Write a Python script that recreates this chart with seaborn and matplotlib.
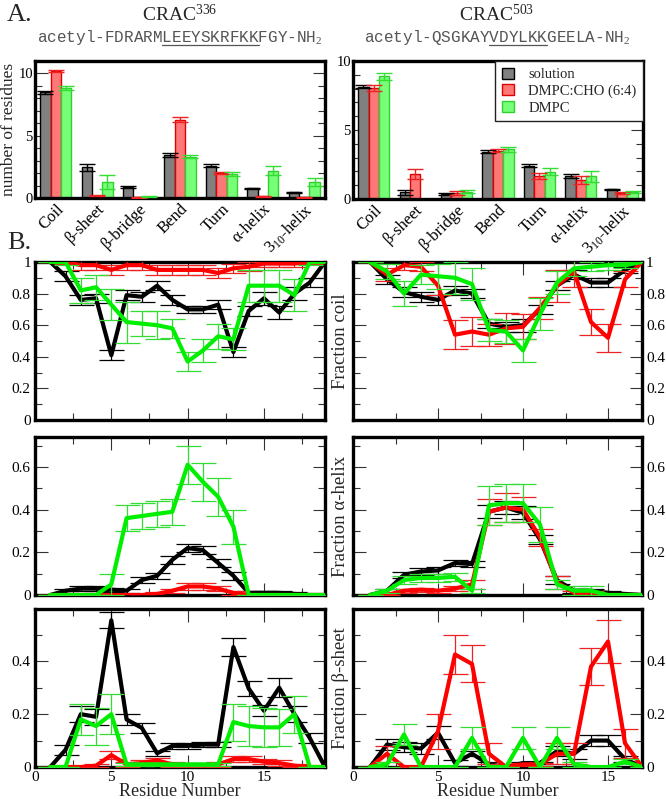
import numpy as np
import pandas as pd
import matplotlib
matplotlib.use('Agg')
import matplotlib.pyplot as plt
from matplotlib.ticker import MultipleLocator, FuncFormatter
from matplotlib.patches import Patch
import seaborn as sns

sns.set_theme(style='white')
plt.rcParams['font.family'] = ['Liberation Serif', 'DejaVu Serif']
plt.rcParams['mathtext.fontset'] = 'custom'
plt.rcParams['mathtext.rm'] = 'Liberation Serif'
plt.rcParams['mathtext.it'] = 'Liberation Serif:italic'

# ---- panel A data: number of residues per secondary structure ----
structures = ['Coil', 'β-sheet', 'β-bridge', 'Bend', 'Turn', 'α-helix', '3$_{\\mathrm{10}}$-helix']
conditions = ['solution', 'DMPC:CHO (6:4)', 'DMPC']

c336_solution = [8.5, 2.45, 0.88, 3.45, 2.6, 0.77, 0.45]
c336_solution_err = [0.12, 0.25, 0.05, 0.15, 0.1, 0.07, 0.05]
c336_cho = [10.2, 0.2, 0.05, 6.3, 2.0, 0.15, 0.05]
c336_cho_err = [0.06, 0.05, 0.03, 0.2, 0.05, 0.05, 0.03]
c336_dmpc = [8.85, 1.3, 0.1, 3.33, 1.95, 2.2, 1.3]
c336_dmpc_err = [0.15, 0.55, 0.05, 0.15, 0.15, 0.35, 0.3]

c503_solution = [8.15, 0.48, 0.35, 3.42, 2.42, 1.67, 0.7]
c503_solution_err = [0.08, 0.2, 0.05, 0.1, 0.1, 0.12, 0.05]
c503_cho = [8.05, 1.8, 0.42, 3.5, 1.65, 1.38, 0.45]
c503_cho_err = [0.2, 0.35, 0.15, 0.12, 0.2, 0.3, 0.06]
c503_dmpc = [8.9, 0.0, 0.52, 3.6, 1.98, 1.65, 0.5]
c503_dmpc_err = [0.25, 0.0, 0.12, 0.2, 0.25, 0.4, 0.1]

# ---- panel B data: per-residue fractions ----
res336 = list(range(1, 20))
res503 = list(range(1, 18))

coil336_sol = [1.0, 0.91, 0.76, 0.77, 0.41, 0.79, 0.78, 0.85, 0.76, 0.70, 0.70, 0.73, 0.43, 0.69, 0.77, 0.68, 0.80, 0.87, 1.0]
coil336_sol_err = [0, 0.03, 0.03, 0.03, 0.03, 0.03, 0.03, 0.03, 0.03, 0.02, 0.02, 0.03, 0.03, 0.03, 0.04, 0.04, 0.04, 0.03, 0]
coil336_cho = [1.0, 1.0, 0.98, 0.98, 0.95, 0.98, 0.98, 0.95, 0.95, 0.95, 0.95, 0.93, 0.96, 0.97, 0.99, 0.99, 0.99, 1.0, 1.0]
coil336_cho_err = [0, 0.01, 0.03, 0.03, 0.03, 0.03, 0.03, 0.03, 0.03, 0.03, 0.03, 0.03, 0.03, 0.03, 0.02, 0.02, 0.02, 0.01, 0]
coil336_dmpc = [1.0, 1.0, 0.82, 0.84, 0.73, 0.62, 0.61, 0.60, 0.58, 0.37, 0.44, 0.53, 0.51, 0.85, 0.85, 0.85, 0.79, 1.0, 1.0]
coil336_dmpc_err = [0, 0.02, 0.08, 0.08, 0.1, 0.13, 0.08, 0.09, 0.06, 0.06, 0.07, 0.08, 0.07, 0.1, 0.1, 0.1, 0.1, 0.02, 0]

coil503_sol = [1.0, 0.89, 0.81, 0.78, 0.76, 0.82, 0.80, 0.61, 0.59, 0.60, 0.70, 0.85, 0.92, 0.87, 0.87, 0.95, 1.0]
coil503_sol_err = [0, 0.03, 0.03, 0.03, 0.03, 0.03, 0.03, 0.03, 0.03, 0.04, 0.03, 0.03, 0.03, 0.03, 0.03, 0.02, 0]
coil503_cho = [1.0, 0.92, 0.98, 0.97, 0.85, 0.54, 0.56, 0.54, 0.58, 0.59, 0.71, 0.85, 0.94, 0.62, 0.52, 0.89, 1.0]
coil503_cho_err = [0, 0.04, 0.03, 0.03, 0.06, 0.09, 0.09, 0.07, 0.1, 0.08, 0.07, 0.1, 0.1, 0.08, 0.09, 0.05, 0]
coil503_dmpc = [1.0, 0.94, 0.80, 0.92, 0.91, 0.90, 0.86, 0.57, 0.56, 0.44, 0.67, 0.87, 0.96, 0.97, 0.98, 0.98, 1.0]
coil503_dmpc_err = [0, 0.05, 0.08, 0.06, 0.08, 0.1, 0.1, 0.07, 0.07, 0.07, 0.1, 0.07, 0.05, 0.03, 0.03, 0.02, 0]

helix336_sol = [0, 0.02, 0.03, 0.03, 0.025, 0.02, 0.07, 0.09, 0.165, 0.22, 0.21, 0.15, 0.09, 0.01, 0.01, 0.01, 0.005, 0, 0]
helix336_sol_err = [0, 0.01, 0.01, 0.01, 0.01, 0.01, 0.015, 0.015, 0.02, 0.02, 0.02, 0.02, 0.02, 0.01, 0.01, 0.01, 0.01, 0, 0]
helix336_cho = [0, 0, 0, 0, 0, 0, 0, 0.005, 0.02, 0.04, 0.04, 0.03, 0.01, 0, 0, 0, 0, 0, 0]
helix336_cho_err = [0, 0, 0.005, 0.005, 0.005, 0.005, 0.005, 0.01, 0.01, 0.015, 0.015, 0.01, 0.01, 0, 0, 0, 0, 0, 0]
helix336_dmpc = [0, 0, 0, 0, 0.05, 0.36, 0.37, 0.38, 0.39, 0.61, 0.53, 0.46, 0.32, 0, 0, 0, 0, 0, 0]
helix336_dmpc_err = [0, 0, 0, 0, 0.05, 0.06, 0.06, 0.06, 0.06, 0.09, 0.09, 0.09, 0.08, 0, 0, 0, 0, 0, 0]

helix503_sol = [0, 0.02, 0.095, 0.11, 0.115, 0.15, 0.145, 0.39, 0.41, 0.385, 0.26, 0.07, 0.02, 0.02, 0.01, 0.005, 0]
helix503_sol_err = [0, 0.01, 0.015, 0.015, 0.015, 0.015, 0.015, 0.03, 0.03, 0.03, 0.02, 0.02, 0.01, 0.01, 0.01, 0.005, 0]
helix503_cho = [0, 0, 0.02, 0.025, 0.02, 0.03, 0.05, 0.39, 0.41, 0.40, 0.27, 0.06, 0.01, 0.01, 0, 0, 0]
helix503_cho_err = [0, 0, 0.01, 0.01, 0.01, 0.01, 0.02, 0.06, 0.07, 0.06, 0.04, 0.03, 0.01, 0.01, 0, 0, 0]
helix503_dmpc = [0, 0.02, 0.07, 0.08, 0.08, 0.085, 0.02, 0.42, 0.43, 0.43, 0.33, 0.05, 0.02, 0.02, 0, 0, 0]
helix503_dmpc_err = [0, 0.01, 0.02, 0.02, 0.02, 0.02, 0.01, 0.09, 0.09, 0.09, 0.08, 0.02, 0.02, 0.02, 0, 0, 0]

sheet336_sol = [0, 0.065, 0.2, 0.19, 0.555, 0.18, 0.148, 0.052, 0.08, 0.08, 0.085, 0.085, 0.454, 0.297, 0.213, 0.30, 0.2, 0.11, 0]
sheet336_sol_err = [0, 0.02, 0.03, 0.03, 0.03, 0.02, 0.02, 0.01, 0.01, 0.01, 0.01, 0.01, 0.035, 0.03, 0.02, 0.035, 0.03, 0.02, 0]
sheet336_cho = [0, 0, 0, 0.005, 0.045, 0.01, 0.015, 0.025, 0.01, 0.005, 0.005, 0.01, 0.03, 0.03, 0.02, 0.015, 0.005, 0, 0]
sheet336_cho_err = [0, 0, 0, 0.005, 0.015, 0.01, 0.01, 0.01, 0.01, 0.005, 0.005, 0.01, 0.01, 0.01, 0.01, 0.01, 0.005, 0, 0]
sheet336_dmpc = [0, 0, 0.18, 0.155, 0.2, 0.01, 0.01, 0.01, 0.01, 0.01, 0.01, 0.01, 0.17, 0.155, 0.15, 0.15, 0.2, 0, 0]
sheet336_dmpc_err = [0, 0, 0.06, 0.07, 0.075, 0.005, 0.005, 0.005, 0.005, 0.005, 0.005, 0.005, 0.07, 0.075, 0.075, 0.07, 0.07, 0, 0]

sheet503_sol = [0, 0.085, 0.075, 0.07, 0.13, 0.015, 0.05, 0.01, 0, 0.015, 0.015, 0.06, 0.05, 0.10, 0.10, 0.03, 0]
sheet503_sol_err = [0, 0.02, 0.02, 0.02, 0.025, 0.01, 0.01, 0.01, 0, 0.005, 0.005, 0.02, 0.02, 0.02, 0.02, 0.01, 0]
sheet503_cho = [0, 0.05, 0, 0, 0.135, 0.426, 0.39, 0.05, 0, 0.01, 0.01, 0.05, 0.05, 0.38, 0.475, 0.09, 0]
sheet503_cho_err = [0, 0.03, 0, 0, 0.065, 0.075, 0.07, 0.04, 0, 0.005, 0.005, 0.04, 0.04, 0.07, 0.08, 0.055, 0]
sheet503_dmpc = [0, 0.01, 0.123, 0, 0, 0, 0.11, 0, 0, 0.11, 0, 0.11, 0.01, 0, 0, 0.02, 0]
sheet503_dmpc_err = [0, 0.01, 0.04, 0, 0, 0, 0.04, 0, 0, 0.04, 0, 0.04, 0.01, 0, 0, 0.01, 0]

fill_colors = ['#808080', '#ff7878', '#78ff78']
edge_colors = ['#000000', '#e00000', '#30d030']
line_colors = ['#000000', '#ff0000', '#00ee00']
err_colors = ['#000000', '#ee2222', '#33dd33']

W, H = 666, 799
fig = plt.figure(figsize=(W / 100, H / 100), dpi=100)


def add_axes_px(left, top, right, bottom):
    return fig.add_axes([left / W, 1 - bottom / H, (right - left) / W, (bottom - top) / H])


def style_axes(ax):
    for sp in ax.spines.values():
        sp.set_linewidth(2.4)
        sp.set_color('black')
    ax.tick_params(which='both', direction='in', color='#333333', width=0.8,
                   labelsize=11, pad=3, labelcolor='black')
    ax.tick_params(which='major', length=9)
    ax.tick_params(which='minor', length=5)


fmt = FuncFormatter(lambda v, p: f'{v:g}')


def bar_panel(ax, vals, errs, ymax, show_legend):
    df = pd.DataFrame({
        'structure': structures * 3,
        'condition': [c for c in conditions for _ in structures],
        'value': [v for series in vals for v in series],
    })
    sns.barplot(data=df, x='structure', y='value', hue='condition', order=structures,
                hue_order=conditions, palette=fill_colors, width=0.75, gap=0,
                errorbar=None, legend=False, ax=ax, saturation=1)
    bar_containers = list(ax.containers)
    for k, cont in enumerate(bar_containers):
        xs, ys = [], []
        for p in cont.patches:
            p.set_edgecolor(edge_colors[k])
            p.set_linewidth(1.0)
            xs.append(p.get_x() + p.get_width() / 2)
            ys.append(p.get_height())
        e = np.array(errs[k])
        keep = e > 0
        ax.errorbar(np.array(xs)[keep], np.array(ys)[keep], yerr=e[keep], fmt='none',
                    ecolor=err_colors[k], elinewidth=1.0, capsize=6, capthick=1.0, zorder=5)
    ax.set_xlim(-0.5, 6.5)
    ax.set_ylim(0, ymax)
    ax.yaxis.set_major_locator(MultipleLocator(5))
    ax.yaxis.set_minor_locator(MultipleLocator(1))
    ax.set_xlabel('')
    ax.set_ylabel('')
    style_axes(ax)
    ax.tick_params(axis='x', which='both', bottom=False, top=False, labelsize=12, pad=2)
    ax.tick_params(axis='y', which='both', left=True, right=True, labelsize=10.5, pad=1.5)
    ax.set_xticks(range(len(structures)))
    ax.set_xticklabels(structures, rotation=45, ha='right', rotation_mode='anchor')
    if show_legend:
        handles = [Patch(facecolor=fill_colors[i], edgecolor=edge_colors[i], linewidth=1.0)
                   for i in range(3)]
        leg = ax.legend(handles, conditions, loc='upper right', fontsize=10.5,
                        frameon=True, fancybox=False, borderaxespad=0.0,
                        handlelength=0.8, handleheight=0.8, handletextpad=1.0,
                        borderpad=0.45, labelspacing=0.2)
        leg.get_frame().set_edgecolor('#222222')
        leg.get_frame().set_linewidth(1.0)
        leg.get_frame().set_alpha(1)


def line_panel(ax, x, series, errs, xmax, ymax, side, ylabel, xlabels):
    for k in range(3):
        ax.errorbar(x, series[k], yerr=errs[k], fmt='none', ecolor=err_colors[k],
                    elinewidth=0.9, capsize=9, capthick=0.9, zorder=2 + k)
        sns.lineplot(x=x, y=series[k], color=line_colors[k], linewidth=3.0, ax=ax,
                     errorbar=None, zorder=3 + k)
    ax.set_xlim(0, xmax)
    ax.set_ylim(0, ymax)
    ax.xaxis.set_major_locator(MultipleLocator(5))
    ax.xaxis.set_minor_locator(MultipleLocator(2.5))
    ax.yaxis.set_major_locator(MultipleLocator(0.2))
    ax.yaxis.set_minor_locator(MultipleLocator(0.1))
    ax.yaxis.set_major_formatter(fmt)
    ax.xaxis.set_major_formatter(fmt)
    style_axes(ax)
    ax.tick_params(which='both', top=True, bottom=True, left=True, right=True)
    if side == 'right':
        ax.tick_params(axis='y', which='both', labelleft=False, labelright=True)
        ax.set_ylabel(ylabel, fontsize=13.5, labelpad=3)
    else:
        ax.set_ylabel('')
    if xlabels:
        ax.tick_params(axis='x', which='major', pad=3)
        ax.set_xlabel('Residue Number', fontsize=13, labelpad=-1)
    else:
        ax.tick_params(axis='x', which='both', labelbottom=False)
        ax.set_xlabel('')


# ---- panel A ----
axA1 = add_axes_px(35, 61, 325, 198)
bar_panel(axA1, [c336_solution, c336_cho, c336_dmpc],
          [c336_solution_err, c336_cho_err, c336_dmpc_err], 11, False)
axA1.set_ylabel('number of residues', fontsize=12.5)
axA1.yaxis.set_label_coords(-0.062, 0.5)

axA2 = add_axes_px(353, 61, 643, 199)
bar_panel(axA2, [c503_solution, c503_cho, c503_dmpc],
          [c503_solution_err, c503_cho_err, c503_dmpc_err], 10, True)

# ---- panel B ----
left_cols = (35, 325)
right_cols = (353, 642)
rows = [(262, 420), (437, 595), (609, 767)]

ax = add_axes_px(left_cols[0], rows[0][0], left_cols[1], rows[0][1])
line_panel(ax, res336, [coil336_sol, coil336_cho, coil336_dmpc],
           [coil336_sol_err, coil336_cho_err, coil336_dmpc_err], 19, 1.0, 'left', '', False)
ax = add_axes_px(right_cols[0], rows[0][0], right_cols[1], rows[0][1])
line_panel(ax, res503, [coil503_sol, coil503_cho, coil503_dmpc],
           [coil503_sol_err, coil503_cho_err, coil503_dmpc_err], 17, 1.0, 'right', 'Fraction coil', False)

ax = add_axes_px(left_cols[0], rows[1][0], left_cols[1], rows[1][1])
line_panel(ax, res336, [helix336_sol, helix336_cho, helix336_dmpc],
           [helix336_sol_err, helix336_cho_err, helix336_dmpc_err], 19, 0.74, 'left', '', False)
ax = add_axes_px(right_cols[0], rows[1][0], right_cols[1], rows[1][1])
line_panel(ax, res503, [helix503_sol, helix503_cho, helix503_dmpc],
           [helix503_sol_err, helix503_cho_err, helix503_dmpc_err], 17, 0.74, 'right', 'Fraction α-helix', False)

ax = add_axes_px(left_cols[0], rows[2][0], left_cols[1], rows[2][1])
line_panel(ax, res336, [sheet336_sol, sheet336_cho, sheet336_dmpc],
           [sheet336_sol_err, sheet336_cho_err, sheet336_dmpc_err], 19, 0.598, 'left', '', True)
ax = add_axes_px(right_cols[0], rows[2][0], right_cols[1], rows[2][1])
line_panel(ax, res503, [sheet503_sol, sheet503_cho, sheet503_dmpc],
           [sheet503_sol_err, sheet503_cho_err, sheet503_dmpc_err], 17, 0.598, 'right', 'Fraction β-sheet', True)

# ---- titles and labels ----
fig.text(7 / W, 1 - 15 / H, 'A.', fontsize=19, va='center', ha='left')
fig.text(7 / W, 1 - 243 / H, 'B.', fontsize=19, va='center', ha='left')
fig.text(180 / W, 1 - 14 / H, 'CRAC$^{336}$', fontsize=14, va='center', ha='center')
fig.text(497 / W, 1 - 14 / H, 'CRAC$^{503}$', fontsize=14, va='center', ha='center')

renderer = fig.canvas.get_renderer()
mono = dict(family=['Liberation Mono', 'DejaVu Sans Mono'], fontsize=11.5, color='#555555')


def sequence(xc, pre, mid, post):
    full = pre + mid + post
    y = 1 - 42 / H
    t = fig.text(xc / W, y, full + '-NH$_2$', ha='center', va='baseline', **mono)
    bb = t.get_window_extent(renderer)
    tmp1 = fig.text(0, 0, pre, **mono)
    tmp2 = fig.text(0, 0, pre + mid, **mono)
    w1 = tmp1.get_window_extent(renderer).width
    w2 = tmp2.get_window_extent(renderer).width
    tmp1.remove()
    tmp2.remove()
    yl = y - 2.5 / H
    fig.add_artist(plt.Line2D([(bb.x0 + w1) / W, (bb.x0 + w2) / W], [yl, yl],
                              color='#555555', linewidth=0.9, transform=fig.transFigure))


sequence(180, 'acetyl-FDRARM', 'LEEYSKRFKK', 'FGY')
sequence(497, 'acetyl-QSGKAY', 'VDYLKK', 'GEELA')

fig.savefig('out.png', dpi=100)
